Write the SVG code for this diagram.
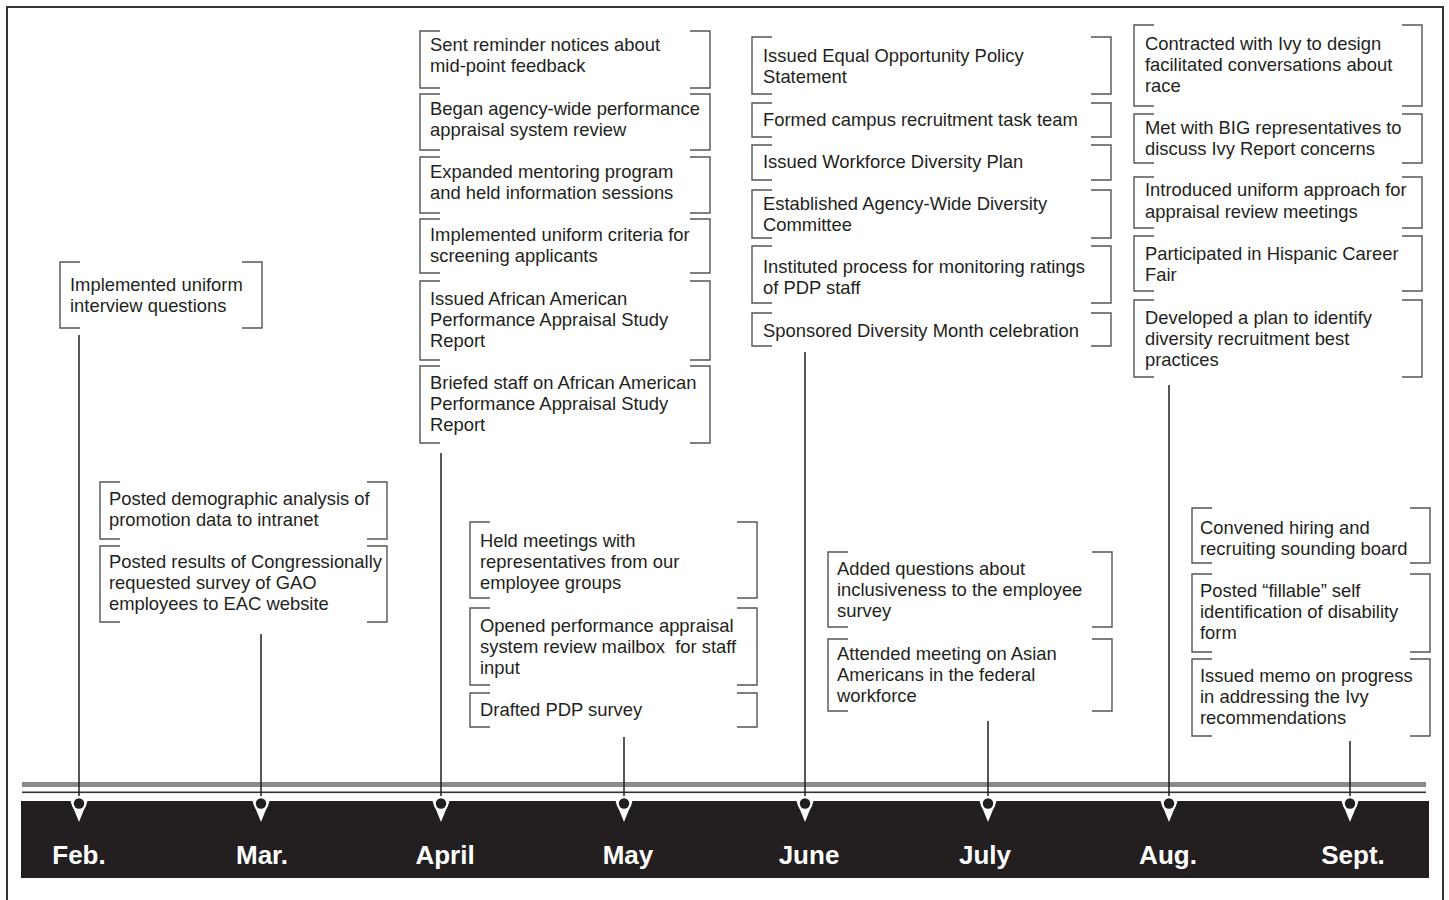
<svg xmlns="http://www.w3.org/2000/svg" width="1449" height="900" viewBox="0 0 1449 900">
<defs>
<style>
.br{fill:none;stroke:#555;stroke-width:1.4}
.t{font-family:"Liberation Sans",Arial,sans-serif;font-size:18.4px;fill:#231f20}
.m{font-family:"Liberation Sans",Arial,sans-serif;font-size:26px;font-weight:bold;fill:#fff;text-anchor:middle}
.c{stroke:#231f20;stroke-width:1.5;fill:none}
</style>
<g id="pin">
<path d="M-8.5 0 H8.5 L0 21 Z" fill="#fff"/>
<circle cx="0" cy="2.5" r="7.5" fill="#fff"/>
<circle cx="0" cy="2.5" r="5.2" fill="#231f20"/>
</g>
</defs>
<rect width="1449" height="900" fill="#fff"/>
<rect x="7" y="7" width="1436" height="910" fill="none" stroke="#333" stroke-width="2"/>

<g id="timeline">
<rect x="22" y="782" width="1404" height="5" fill="#8a8a8a"/>
<rect x="22" y="791.5" width="1404" height="1.6" fill="#333"/>
<rect x="21" y="801" width="1408" height="77" fill="#231f20"/>
<text class="m" x="79" y="864">Feb.</text>
<text class="m" x="262" y="864">Mar.</text>
<text class="m" x="445" y="864">April</text>
<text class="m" x="628" y="864">May</text>
<text class="m" x="809" y="864">June</text>
<text class="m" x="985" y="864">July</text>
<text class="m" x="1168" y="864">Aug.</text>
<text class="m" x="1353" y="864">Sept.</text>
</g>

<g id="connectors">
<path class="c" d="M79 335 V803 M261 634 V803 M441 453 V803 M624 737 V803 M805 352 V803 M988 721 V803 M1169 385 V803 M1350 741 V803"/>
<use href="#pin" x="79" y="801"/>
<use href="#pin" x="261" y="801"/>
<use href="#pin" x="441" y="801"/>
<use href="#pin" x="624" y="801"/>
<use href="#pin" x="805" y="801"/>
<use href="#pin" x="988" y="801"/>
<use href="#pin" x="1169" y="801"/>
<use href="#pin" x="1350" y="801"/>
</g>

<!-- Feb -->
<g id="feb1">
<path class="br" d="M80 262 H60 V328 H80 M242 262 H262 V328 H242"/>
<text class="t" x="70" y="291">Implemented uniform</text>
<text class="t" x="70" y="312">interview questions</text>
</g>

<!-- Mar -->
<g id="mar1">
<path class="br" d="M120 482 H100 V539 H120 M367 482 H387 V539 H367"/>
<text class="t" x="109" y="505">Posted demographic analysis of</text>
<text class="t" x="109" y="526">promotion data to intranet</text>
</g>
<g id="mar2">
<path class="br" d="M120 546 H100 V622 H120 M367 546 H387 V622 H367"/>
<text class="t" x="109" y="568">Posted results of Congressionally</text>
<text class="t" x="109" y="589">requested survey of GAO</text>
<text class="t" x="109" y="610">employees to EAC website</text>
</g>

<!-- April -->
<g id="apr1">
<path class="br" d="M440 31 H420 V88 H440 M690 31 H710 V88 H690"/>
<text class="t" x="430" y="51">Sent reminder notices about</text>
<text class="t" x="430" y="72">mid-point feedback</text>
</g>
<g id="apr2">
<path class="br" d="M440 94 H420 V150 H440 M690 94 H710 V150 H690"/>
<text class="t" x="430" y="115">Began agency-wide performance</text>
<text class="t" x="430" y="136">appraisal system review</text>
</g>
<g id="apr3">
<path class="br" d="M440 157 H420 V213 H440 M690 157 H710 V213 H690"/>
<text class="t" x="430" y="178">Expanded mentoring program</text>
<text class="t" x="430" y="199">and held information sessions</text>
</g>
<g id="apr4">
<path class="br" d="M440 219 H420 V273 H440 M690 219 H710 V273 H690"/>
<text class="t" x="430" y="241">Implemented uniform criteria for</text>
<text class="t" x="430" y="262">screening applicants</text>
</g>
<g id="apr5">
<path class="br" d="M440 281 H420 V360 H440 M690 281 H710 V360 H690"/>
<text class="t" x="430" y="305">Issued African American</text>
<text class="t" x="430" y="326">Performance Appraisal Study</text>
<text class="t" x="430" y="347">Report</text>
</g>
<g id="apr6">
<path class="br" d="M440 366 H420 V443 H440 M690 366 H710 V443 H690"/>
<text class="t" x="430" y="389">Briefed staff on African American</text>
<text class="t" x="430" y="410">Performance Appraisal Study</text>
<text class="t" x="430" y="431">Report</text>
</g>

<!-- May -->
<g id="may1">
<path class="br" d="M490 522 H470 V598 H490 M737 522 H757 V598 H737"/>
<text class="t" x="480" y="547">Held meetings with</text>
<text class="t" x="480" y="568">representatives from our</text>
<text class="t" x="480" y="589">employee groups</text>
</g>
<g id="may2">
<path class="br" d="M490 608 H470 V685 H490 M737 608 H757 V685 H737"/>
<text class="t" x="480" y="632">Opened performance appraisal</text>
<text class="t" x="480" y="653" xml:space="preserve">system review mailbox  for staff</text>
<text class="t" x="480" y="674">input</text>
</g>
<g id="may3">
<path class="br" d="M490 693 H470 V727 H490 M737 693 H757 V727 H737"/>
<text class="t" x="480" y="716">Drafted PDP survey</text>
</g>

<!-- June -->
<g id="jun1">
<path class="br" d="M772 37 H752 V94 H772 M1091 37 H1111 V94 H1091"/>
<text class="t" x="763" y="62">Issued Equal Opportunity Policy</text>
<text class="t" x="763" y="83">Statement</text>
</g>
<g id="jun2">
<path class="br" d="M772 103 H752 V137 H772 M1091 103 H1111 V137 H1091"/>
<text class="t" x="763" y="126">Formed campus recruitment task team</text>
</g>
<g id="jun3">
<path class="br" d="M772 145 H752 V180 H772 M1091 145 H1111 V180 H1091"/>
<text class="t" x="763" y="168">Issued Workforce Diversity Plan</text>
</g>
<g id="jun4">
<path class="br" d="M772 190 H752 V238 H772 M1091 190 H1111 V238 H1091"/>
<text class="t" x="763" y="210">Established Agency-Wide Diversity</text>
<text class="t" x="763" y="231">Committee</text>
</g>
<g id="jun5">
<path class="br" d="M772 246 H752 V303 H772 M1091 246 H1111 V303 H1091"/>
<text class="t" x="763" y="273">Instituted process for monitoring ratings</text>
<text class="t" x="763" y="294">of PDP staff</text>
</g>
<g id="jun6">
<path class="br" d="M772 313 H752 V346 H772 M1091 313 H1111 V346 H1091"/>
<text class="t" x="763" y="337">Sponsored Diversity Month celebration</text>
</g>

<!-- July -->
<g id="jul1">
<path class="br" d="M848 552 H828 V627 H848 M1092 552 H1112 V627 H1092"/>
<text class="t" x="837" y="575">Added questions about</text>
<text class="t" x="837" y="596">inclusiveness to the employee</text>
<text class="t" x="837" y="617">survey</text>
</g>
<g id="jul2">
<path class="br" d="M848 639 H828 V711 H848 M1092 639 H1112 V711 H1092"/>
<text class="t" x="837" y="660">Attended meeting on Asian</text>
<text class="t" x="837" y="681">Americans in the federal</text>
<text class="t" x="837" y="702">workforce</text>
</g>

<!-- Aug -->
<g id="aug1">
<path class="br" d="M1154 25 H1134 V106 H1154 M1402 25 H1422 V106 H1402"/>
<text class="t" x="1145" y="50">Contracted with Ivy to design</text>
<text class="t" x="1145" y="71">facilitated conversations about</text>
<text class="t" x="1145" y="92">race</text>
</g>
<g id="aug2">
<path class="br" d="M1154 114 H1134 V163 H1154 M1402 114 H1422 V163 H1402"/>
<text class="t" x="1145" y="134">Met with BIG representatives to</text>
<text class="t" x="1145" y="155">discuss Ivy Report concerns</text>
</g>
<g id="aug3">
<path class="br" d="M1154 177 H1134 V228 H1154 M1402 177 H1422 V228 H1402"/>
<text class="t" x="1145" y="196">Introduced uniform approach for</text>
<text class="t" x="1145" y="218">appraisal review meetings</text>
</g>
<g id="aug4">
<path class="br" d="M1154 236 H1134 V291 H1154 M1402 236 H1422 V291 H1402"/>
<text class="t" x="1145" y="260">Participated in Hispanic Career</text>
<text class="t" x="1145" y="281">Fair</text>
</g>
<g id="aug5">
<path class="br" d="M1154 300 H1134 V377 H1154 M1402 300 H1422 V377 H1402"/>
<text class="t" x="1145" y="324">Developed a plan to identify</text>
<text class="t" x="1145" y="345">diversity recruitment best</text>
<text class="t" x="1145" y="366">practices</text>
</g>

<!-- Sept -->
<g id="sep1">
<path class="br" d="M1212 508 H1192 V563 H1212 M1410 508 H1430 V563 H1410"/>
<text class="t" x="1200" y="534">Convened hiring and</text>
<text class="t" x="1200" y="555">recruiting sounding board</text>
</g>
<g id="sep2">
<path class="br" d="M1212 574 H1192 V652 H1212 M1410 574 H1430 V652 H1410"/>
<text class="t" x="1200" y="597">Posted “fillable” self</text>
<text class="t" x="1200" y="618">identification of disability</text>
<text class="t" x="1200" y="639">form</text>
</g>
<g id="sep3">
<path class="br" d="M1212 659 H1192 V736 H1212 M1410 659 H1430 V736 H1410"/>
<text class="t" x="1200" y="682">Issued memo on progress</text>
<text class="t" x="1200" y="703">in addressing the Ivy</text>
<text class="t" x="1200" y="724">recommendations</text>
</g>
</svg>
